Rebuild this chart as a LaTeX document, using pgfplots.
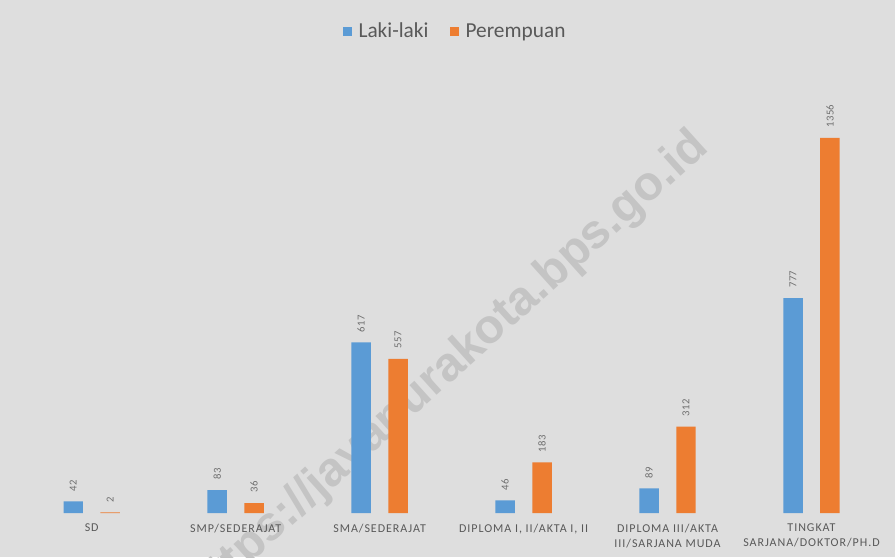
\documentclass[border=0pt]{standalone}
\usepackage{pgfplots}
\pgfplotsset{compat=1.18}
\usepackage{fontspec}
\setmainfont{Carlito}
\newfontfamily\legfont{Carlito}
\newfontfamily\tickfont[LetterSpace=8]{Carlito}
\newfontfamily\lblfont[LetterSpace=4]{Carlito}
\newfontfamily\wmfont{Liberation Sans}
\definecolor{bgc}{HTML}{DEDEDE}
\definecolor{wmc}{HTML}{C4C4C4}
\definecolor{txt}{HTML}{595959}
\definecolor{lbl}{HTML}{6E6E6E}
\definecolor{blu}{HTML}{5B9BD5}
\definecolor{org}{HTML}{ED7D31}
\begin{document}
\begin{tikzpicture}
\clip (0,0) rectangle (671.25pt,417.75pt);
\fill[bgc] (0,0) rectangle (671.25pt,417.75pt);
\node[rotate=42, text=wmc, font=\wmfont\bfseries\fontsize{36}{40}\selectfont] at (336pt,141pt) {https://jayapurakota.bps.go.id};
\begin{axis}[
  at={(14.8pt,33pt)}, anchor=south west,
  scale only axis, width=647.8pt, height=332pt,
  xmin=-0.5, xmax=5.5, ymin=0, ymax=1600,
  ybar=13.1pt, bar width=14.6pt,
  axis line style={draw=none},
  ytick=\empty,
  xtick={0,1,2,3,4,5},
  major tick length=0pt,
  xticklabels={SD, SMP/SEDERAJAT, SMA/SEDERAJAT, {DIPLOMA I, II/AKTA I, II}, {DIPLOMA III/AKTA\\III/SARJANA MUDA}, {TINGKAT\\SARJANA/DOKTOR/PH.D}},
  xticklabel style={align=center, anchor=north, inner sep=0pt, yshift=-8pt, text=txt, font=\tickfont\fontsize{9}{11.25}\selectfont},
  /pgf/number format/assume math mode=true,
  /pgf/number format/1000 sep={},
  nodes near coords,
  nodes near coords style={yshift=7.5pt, rotate=90, anchor=west, inner sep=0pt, text=lbl, font=\lblfont\fontsize{8}{9}\selectfont},
  legend columns=2,
  legend style={at={(0.5045,1.088)}, anchor=center, draw=none, fill=none, text=txt, font=\legfont\fontsize{16}{18}\selectfont, /tikz/every odd column/.append style={column sep=3pt}, /tikz/every even column/.append style={column sep=14pt}},
  legend image code/.code={\fill[#1,draw=none] (0pt,-3.4pt) rectangle (6.75pt,3.4pt);},
]
\addplot[fill=blu, draw=none] coordinates {(0,42) (1,83) (2,617) (3,46) (4,89) (5,777)};
\addlegendentry{Laki-laki}
\addplot[fill=org, draw=none] coordinates {(0,2) (1,36) (2,557) (3,183) (4,312) (5,1356)};
\addlegendentry{Perempuan}
\end{axis}
\end{tikzpicture}
\end{document}
